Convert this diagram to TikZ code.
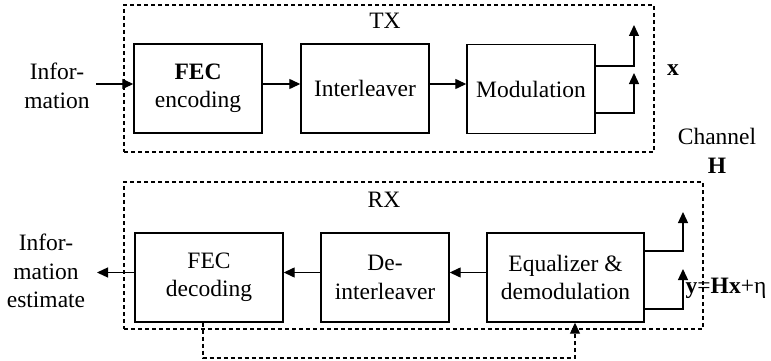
\documentclass[tikz,border=0pt]{standalone}
\usepackage{fontspec}
\setmainfont{Liberation Serif}
\usetikzlibrary{arrows.meta,calc}
\begin{document}
\begin{tikzpicture}[x=1pt,y=-1pt,
  every node/.style={font=\fontsize{23.5}{28.5}\selectfont, inner sep=0pt, align=center},
  blk/.style={draw, line width=1.4pt, minimum height=89pt},
  grp/.style={draw, dash pattern=on 4pt off 3pt, line width=1.1pt},
  conn/.style={line width=1.3pt, -{Triangle[length=11pt,width=10pt]}},
  fb/.style={dash pattern=on 4pt off 3pt, line width=1.1pt, -{Triangle[length=11pt,width=10pt]}}]
\useasboundingbox (0,0) rectangle (771,361);
% group boxes
\node[grp, minimum width=530pt, minimum height=147pt] (tx) at (389,78.5) {};
\node[grp, minimum width=579pt, minimum height=147pt] (rx) at (413.5,255.5) {};
\node (txl) at (385,21) {TX};
\node (rxl) at (384,200) {RX};
% TX blocks
\node[blk, minimum width=128pt] (fecenc) at (198,88.5) {\textbf{FEC}\\encoding};
\node[blk, minimum width=128pt] (inter) at (365,88.5) {Interleaver};
\node[blk, minimum width=128pt] (mod) at (531,89) {Modulation};
% RX blocks
\node[blk, minimum width=148pt] (fecdec) at (209,277.5) {FEC\\decoding};
\node[blk, minimum width=128pt] (deint) at (385,277.5) {De-\\interleaver};
\node[blk, minimum width=157pt] (eq) at (565.5,277.5) {Equalizer \&\\demodulation};
% labels
\node (info) at (57,86) {Infor-\\mation};
\node (infoest) at (46,271) {Infor-\\mation\\estimate};
\node (xl) at (673,70) {\textbf{x}};
\node (chan) at (717,151) {Channel\\\textbf{H}};
\node (yl) at (726,288) {\textbf{y}=\textbf{Hx}+η};
% coordinates
\coordinate (inp) at (96,84);
\coordinate (outp) at (97,272.5);
\coordinate (tu) at (634,25);
\coordinate (tl) at (634,73);
\coordinate (ru) at (683,212);
\coordinate (rl) at (683,269);
\coordinate (fbc) at (575,358);
% TX connectors
\draw[conn] (inp) -- (fecenc.west |- inp);
\draw[conn] (fecenc.east |- inp) -- (inter.west |- inp);
\draw[conn] (inter.east |- inp) -- (mod.west |- inp);
\draw[conn] (mod.east |- 0,66) -| (tu);
\draw[conn] (mod.east |- 0,113) -| (tl);
% RX connectors
\draw[conn] (eq.west |- outp) -- (deint.east |- outp);
\draw[conn] (deint.west |- outp) -- (fecdec.east |- outp);
\draw[conn] (fecdec.west |- outp) -- (outp);
\draw[conn] (eq.east |- 0,251) -| (ru);
\draw[conn] (eq.east |- 0,309) -| (rl);
% feedback
\draw[fb] ($(fecdec.south)+(-6,0)$) |- (fbc) -- (fbc |- eq.south);
\end{tikzpicture}
\end{document}
